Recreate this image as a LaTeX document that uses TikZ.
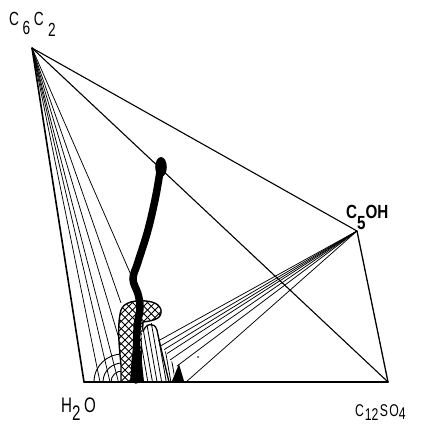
\documentclass[tikz,border=0pt]{standalone}
\usepackage{fontspec}
\setmainfont{Liberation Sans}
\tikzset{
  edge/.style={line width=1.1pt, line cap=round},
  tieline/.style={line width=0.75pt},
  hatchline/.style={line width=0.9pt},
  lbl/.style={inner sep=0pt, anchor=base west},
}
\newcommand{\sbx}[1]{\scalebox{0.72}[1]{#1}}
\begin{document}
\begin{tikzpicture}[x=1pt,y=-1pt]
\useasboundingbox (0,0) rectangle (422,424);
\coordinate (A) at (32,48);
\coordinate (B) at (84,382);
\coordinate (C) at (388,382);
\coordinate (D) at (357,231);
% ends of tie lines from A
\coordinate (a1) at (100,382);
\coordinate (a2) at (110,382);
\coordinate (a3) at (118.5,382);
\coordinate (a4) at (120,342);
\coordinate (a5) at (121,303);
\coordinate (a6) at (131,275);
% ends of tie lines from D
\coordinate (e1) at (158,341);
\coordinate (e2) at (161,345.7);
\coordinate (e3) at (164,349.7);
\coordinate (e4) at (167,353.6);
\coordinate (e5) at (170,360);
\coordinate (e6) at (177,366);
\coordinate (e7) at (186,382);
% tie lines
\foreach \p in {a1,a2,a3,a4,a5,a6} \draw[tieline] (A) -- (\p);
\foreach \p in {e1,e2,e3,e4,e5,e6,e7} \draw[tieline] (D) -- (\p);
% arcs in the lower left
\foreach \r in {11,19,28}
  \draw[tieline, line width=0.9pt] (122-\r,382) .. controls (122-\r,382-0.6*\r) and (122-0.5*\r,382-\r) .. (122,382-\r);
% cross-hatched region
\newcommand{\xhregion}{(121,382) -- (121,365) .. controls (119,345) and (117,325) .. (121,310) .. controls (124,302) and (135,300) .. (146,301) .. controls (156,302) and (162,306) .. (161,313) .. controls (160,320) and (150,321) .. (143,322) -- (140,382) -- cycle}
\fill[white] \xhregion;
\begin{scope}
  \clip \xhregion;
  \foreach \i in {0,...,24} {
    \draw[hatchline] (20+\i*7.5,280) -- ++(110,110);
    \draw[hatchline] (110+\i*7.5,280) -- ++(-110,110);
  }
\end{scope}
\draw[line width=1.4pt] \xhregion;
% single-hatched region
\newcommand{\shregion}{(142,382) -- (142,332) .. controls (143,326) and (148,323) .. (152,323) .. controls (156,324) and (158,332) .. (e1) -- (e2) -- (e3) -- (e4) -- (e5) -- (e6) -- (172,382) -- cycle}
\fill[white] \shregion;
\begin{scope}
  \clip \shregion;
  \foreach \i in {0,...,12}
    \draw[hatchline, line width=0.8pt] (132+\i*4.6,318) -- ++(12,68);
\end{scope}
\draw[line width=1.3pt] (143,332) .. controls (145,324) and (154,321) .. (157,330) .. controls (160,345) and (165,365) .. (169,382);
% thick black curve
\draw[line width=7.5pt, line cap=round] plot[smooth, tension=0.6] coordinates {(161,165) (156,195) (148,230) (138,262) (133,279) (138,294) (140,308) (137,330) (136,380)};
\fill (161,167) ellipse [x radius=5.8, y radius=10];
\fill (130,382) -- (132,355) -- (136,335) -- (141,352) -- (144,382) -- cycle;
% small three-phase triangle
\fill (172,381) -- (179,364) -- (184,381) -- cycle;
\fill (198,357) circle (0.8);
% main edges
\draw[edge, line width=1.6pt] (A) -- (B);
\draw[edge] (A) -- (C);
\draw[edge] (A) -- (D);
\draw[edge, line width=1.3pt] (D) -- (C);
\draw[edge, line width=1.9pt] (B) -- (C);
% labels
\node[lbl] (lA) at (9,25) {\fontsize{19}{19}\selectfont\sbx{C\hspace{5pt}\raisebox{-9pt}{6}\hspace{5pt}C\hspace{6pt}\raisebox{-11pt}{2}}};
\node[lbl] (lB) at (61,412) {\fontsize{21}{21}\selectfont\sbx{H\raisebox{-8pt}{2}\hspace{5pt}O}};
\node[lbl] (lC) at (355,416) {\fontsize{17}{17}\selectfont\sbx{C\hspace{1pt}\raisebox{-4pt}{12}\hspace{2pt}S\hspace{2pt}O\raisebox{-3pt}{4}}};
\node[lbl] (lD) at (346,218) {\fontsize{19}{19}\selectfont\bfseries\scalebox{0.8}[1]{C\raisebox{-11pt}{5}OH}};
\end{tikzpicture}
\end{document}
